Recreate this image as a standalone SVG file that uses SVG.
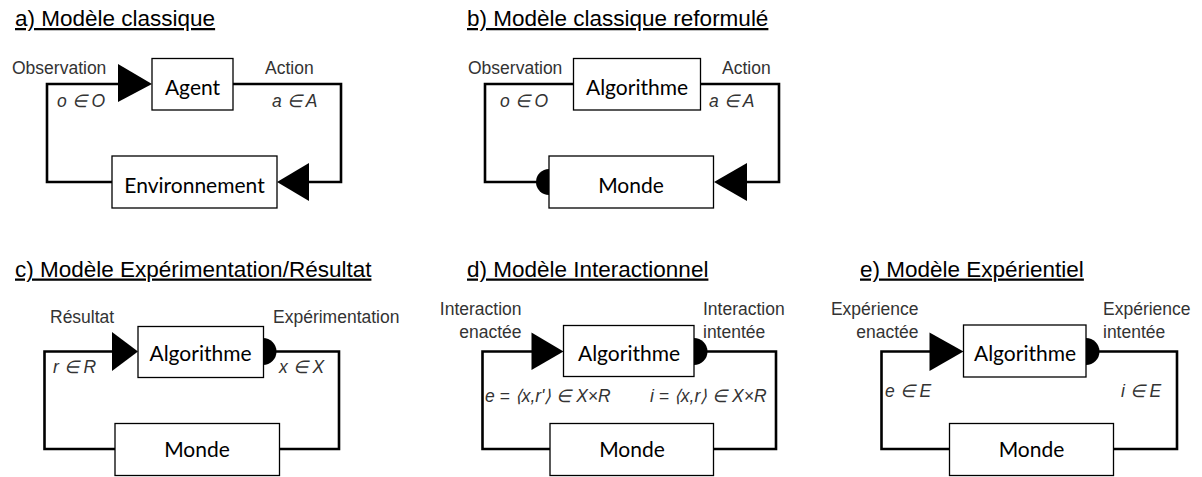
<svg xmlns="http://www.w3.org/2000/svg" width="1202" height="477" viewBox="0 0 1202 477">
<style>
.title{font-family:"Liberation Sans",Arial,sans-serif;font-size:22.5px;fill:#000;text-decoration:underline}
.lbl{font-family:"Liberation Sans",Arial,sans-serif;font-size:17.5px;fill:#333}
.math{font-family:"Liberation Sans",Arial,sans-serif;font-size:17.5px;font-style:italic;fill:#333}
.box{fill:#fff;stroke:#000;stroke-width:1.3}
.btxt{font-family:Lato,"Noto Sans",sans-serif;font-size:21px;fill:#000;text-anchor:middle}
.wire{fill:none;stroke:#000;stroke-width:2.6}
.head{fill:#000;stroke:none}
</style>
<rect width="1202" height="477" fill="#fff"/>

<!-- Titles -->
<text class="title" x="15" y="26">a) Modèle classique</text>
<text class="title" x="467" y="26">b) Modèle classique reformulé</text>
<text class="title" x="15" y="276.5">c) Modèle Expérimentation/Résultat</text>
<text class="title" x="467" y="276.5">d) Modèle Interactionnel</text>
<text class="title" x="860" y="276.5">e) Modèle Expérientiel</text>

<!-- Connectors -->
<g id="connectors">
  <!-- a -->
  <polyline class="wire" points="119,84 47,84 47,182 112,182"/>
  <polyline class="wire" points="233,84 341,84 341,182 308,182"/>
  <polygon class="head" points="118,64 152,84 118,102"/>
  <polygon class="head" points="309,163 277,182 309,201"/>
  <!-- b -->
  <polyline class="wire" points="573,84 485,84 485,182 537,182"/>
  <polyline class="wire" points="701,84 779,84 779,182 746,182"/>
  <path class="head" d="M549,169 A13,13 0 0 0 549,195 Z"/>
  <polygon class="head" points="747,163 714,182 747,201"/>
  <!-- c -->
  <polyline class="wire" points="113,351.5 44.5,351.5 44.5,449 115,449"/>
  <polyline class="wire" points="276,351.5 339,351.5 339,449 279,449"/>
  <polygon class="head" points="112,332 138,351.5 112,371"/>
  <path class="head" d="M263,338 A13.5,13.5 0 0 1 263,365 Z"/>
  <!-- d -->
  <polyline class="wire" points="533,351.5 482.5,351.5 482.5,449 550,449"/>
  <polyline class="wire" points="706,351.5 776,351.5 776,449 713,449"/>
  <polygon class="head" points="531.5,332.5 563.5,351.5 531.5,370"/>
  <path class="head" d="M694,338 A13.5,13.5 0 0 1 694,365 Z"/>
  <!-- e -->
  <polyline class="wire" points="931,351.5 881.5,351.5 881.5,449 949,449"/>
  <polyline class="wire" points="1098,351.5 1177,351.5 1177,449 1113,449"/>
  <polygon class="head" points="929.5,332.5 963.5,351.5 929.5,371"/>
  <path class="head" d="M1086,338 A13.5,13.5 0 0 1 1086,365 Z"/>
</g>

<!-- a nodes -->
<g id="a-agent">
  <rect class="box" x="152" y="58.5" width="81" height="51.5"/>
  <text class="btxt" x="192.5" y="94.5">Agent</text>
</g>
<g id="a-env">
  <rect class="box" x="112" y="156" width="165" height="52"/>
  <text class="btxt" x="194.5" y="193">Environnement</text>
</g>
<g id="a-labels">
  <text class="lbl" x="12" y="74">Observation</text>
  <text class="lbl" x="265" y="74">Action</text>
  <text class="math" x="57" y="107">o ∈ O</text>
  <text class="math" x="272" y="107">a ∈ A</text>
</g>

<!-- b nodes -->
<g id="b-algo">
  <rect class="box" x="573.5" y="58.5" width="127" height="51.5"/>
  <text class="btxt" x="637" y="94.5">Algorithme</text>
</g>
<g id="b-monde">
  <rect class="box" x="549" y="156" width="164.5" height="52"/>
  <text class="btxt" x="631" y="193">Monde</text>
</g>
<g id="b-labels">
  <text class="lbl" x="468" y="74">Observation</text>
  <text class="lbl" x="722" y="74">Action</text>
  <text class="math" x="500" y="107">o ∈ O</text>
  <text class="math" x="709" y="107">a ∈ A</text>
</g>

<!-- c nodes -->
<g id="c-algo">
  <rect class="box" x="138" y="326.5" width="125.5" height="51"/>
  <text class="btxt" x="200.5" y="361">Algorithme</text>
</g>
<g id="c-monde">
  <rect class="box" x="115" y="423.5" width="164.5" height="52"/>
  <text class="btxt" x="197" y="457">Monde</text>
</g>
<g id="c-labels">
  <text class="lbl" x="50" y="322.5">Résultat</text>
  <text class="lbl" x="273" y="322.5">Expérimentation</text>
  <text class="math" x="53" y="372.5">r ∈ R</text>
  <text class="math" x="279" y="372.5">x ∈ X</text>
</g>

<!-- d nodes -->
<g id="d-algo">
  <rect class="box" x="563.5" y="325.5" width="130.5" height="51"/>
  <text class="btxt" x="629" y="361">Algorithme</text>
</g>
<g id="d-monde">
  <rect class="box" x="550" y="423.5" width="163.5" height="52"/>
  <text class="btxt" x="632" y="457">Monde</text>
</g>
<g id="d-labels">
  <text class="lbl" x="521.5" y="315" text-anchor="end">Interaction</text>
  <text class="lbl" x="521.5" y="337.5" text-anchor="end">enactée</text>
  <text class="lbl" x="703" y="315">Interaction</text>
  <text class="lbl" x="703" y="337.5">intentée</text>
  <text class="math" x="485" y="402">e = ⟨x,r'⟩ ∈ X×R</text>
  <text class="math" x="650" y="402">i = ⟨x,r⟩ ∈ X×R</text>
</g>

<!-- e nodes -->
<g id="e-algo">
  <rect class="box" x="963.5" y="325" width="122.5" height="52"/>
  <text class="btxt" x="1025" y="361">Algorithme</text>
</g>
<g id="e-monde">
  <rect class="box" x="949.5" y="423.5" width="164" height="52"/>
  <text class="btxt" x="1031.5" y="457">Monde</text>
</g>
<g id="e-labels">
  <text class="lbl" x="918.5" y="315" text-anchor="end">Expérience</text>
  <text class="lbl" x="918.5" y="337.5" text-anchor="end">enactée</text>
  <text class="lbl" x="1103" y="315">Expérience</text>
  <text class="lbl" x="1103" y="337.5">intentée</text>
  <text class="math" x="885" y="397">e ∈ E</text>
  <text class="math" x="1121" y="397">i ∈ E</text>
</g>
</svg>
